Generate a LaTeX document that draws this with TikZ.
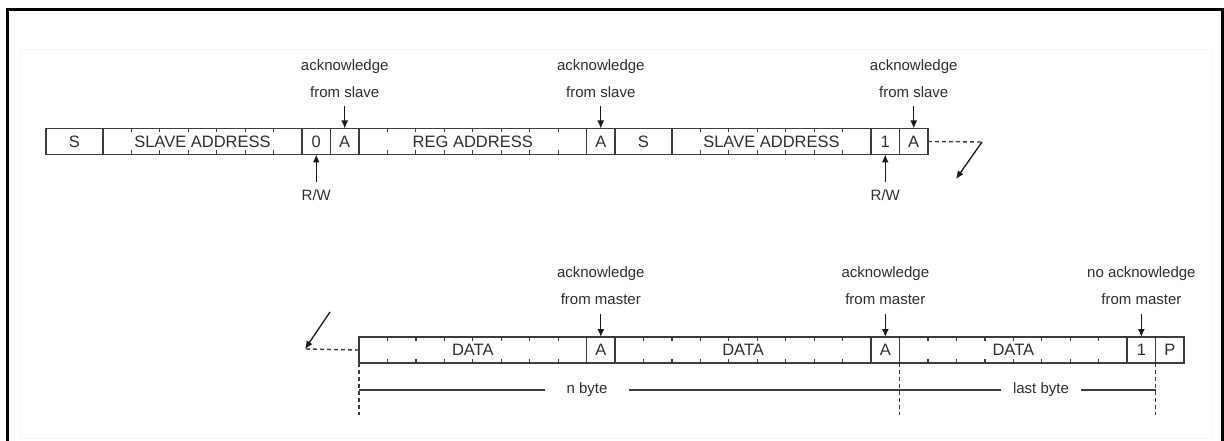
\documentclass[tikz,border=0pt]{standalone}
\usepackage{fontspec}
\setmainfont{Liberation Sans}
\usetikzlibrary{arrows.meta,calc,positioning}
\newcommand{\bitwd}{28.45}
\definecolor{linegray}{HTML}{3C3C3C}
\definecolor{textgray}{HTML}{2E2E2E}

\begin{document}
\begin{tikzpicture}[
  x=1pt, y=-1pt,
  > = {Latex[length=8pt,width=7pt]},
  cell/.style = {draw=linegray, line width=1.6pt, minimum height=26pt, minimum width=#1*\bitwd pt,
                 inner sep=0pt, outer sep=0pt, text=textgray, font=\fontsize{16.5}{16.5}\selectfont},
  cell/.default = 1,
  lbl/.style = {align=center, inner sep=0pt, text=textgray, font=\fontsize{15}{27}\selectfont},
  bittick/.style = {draw=linegray, line width=1.2pt},
  cont/.style = {draw=linegray, line width=1.4pt, dash pattern=on 4pt off 3pt},
  span/.style = {draw=linegray, line width=1.2pt},
  pointer/.style = {->, draw=black!90, line width=1.3pt, shorten <=9pt},
  ]
	\useasboundingbox (0,0) rectangle (1224,441);
	\draw[black!4, line width=1pt] (20,50) rectangle (1212,438);
	\draw[line width=3pt] (7.5,450) -- (7.5,9.5) -- (1222.5,9.5) -- (1222.5,450);

	% write sequence
	\node[cell=2, anchor=west] (s1) at (46,141.5) {S};
	\node[cell=7, right=0pt of s1] (sa1) {SLAVE ADDRESS};
	\node[cell, right=0pt of sa1] (z1) {0};
	\node[cell, right=0pt of z1] (a1) {A};
	\node[cell=8, right=0pt of a1] (ra) {REG ADDRESS};
	\node[cell, right=0pt of ra] (a2) {A};
	\node[cell=2, right=0pt of a2] (s2) {S};
	\node[cell=7, right=0pt of s2] (sa2) {SLAVE ADDRESS};
	\node[cell, right=0pt of sa2] (o1) {1};
	\node[cell, right=0pt of o1] (a3) {A};

	% read sequence
	\node[cell=8, anchor=west] (d1) at (359,350) {DATA};
	\node[cell, right=0pt of d1] (m1) {A};
	\node[cell=9, right=0pt of m1] (d2) {DATA};
	\node[cell, right=0pt of d2] (m2) {A};
	\node[cell=8, right=0pt of m2] (d3) {DATA};
	\node[cell, right=0pt of d3] (n1) {1};
	\node[cell, right=0pt of n1] (p1) {P};

	\foreach \f/\n in {sa1/7, ra/8, sa2/7, d1/8, d2/9, d3/8}{
		\pgfmathtruncatemacro{\nlast}{\n-1}
		\foreach \i in {1,...,\nlast}{
			\draw[bittick] ($(\f.north west)+(\i*\bitwd,0)$) -- ++(0,4);
			\draw[bittick] ($(\f.south west)+(\i*\bitwd,0)$) -- ++(0,-4);
		}
	}

	\node[lbl, above=31pt of a1] (k1) {acknowledge\\from slave};
	\node[lbl, above=31pt of a2] (k2) {acknowledge\\from slave};
	\node[lbl, above=31pt of a3] (k3) {acknowledge\\from slave};
	\node[lbl, above=32pt of m1] (k4) {acknowledge\\from master};
	\node[lbl, above=32pt of m2] (k5) {acknowledge\\from master};
	\node[lbl, above=32pt of n1] (k6) {no acknowledge\\from master};
	\foreach \k/\c in {k1/a1, k2/a2, k3/a3, k4/m1, k5/m2, k6/n1}
		\draw[pointer] (\k.south) -- (\c.north);

	\node[lbl, below=35pt of z1] (rw1) {R/W};
	\node[lbl, below=35pt of o1] (rw2) {R/W};
	\draw[pointer, shorten <=7pt] (rw1.north) -- (z1.south);
	\draw[pointer, shorten <=7pt] (rw2.north) -- (o1.south);

	\coordinate (@1) at (982,142);
	\coordinate (@2) at (956,179);
	\coordinate (@3) at (330,312);
	\coordinate (@4) at (305,349);
	\draw[cont] (a3.east) -- (@1);
	\draw[->, line width=1.3pt, black!90] (@1) -- (@2);
	\draw[->, line width=1.3pt, black!90] (@3) -- (@4);
	\draw[cont] (d1.west) -- (@4);

	\coordinate (v1) at ($(d1.south west)+(0,52)$);
	\coordinate (v2) at ($(d3.south west)+(0,52)$);
	\coordinate (v3) at ($(p1.south west)+(0,52)$);
	\draw[cont, line width=1.2pt] (d1.south west) -- (v1);
	\draw[cont, line width=1.2pt] (d3.south west) -- (v2);
	\draw[cont, line width=1.2pt] (p1.south west) -- (v3);

	\node[lbl, inner xsep=21pt] (nb) at (587,390) {n byte};
	\node[lbl, inner xsep=12pt] (lb) at (1041,390) {last byte};
	\draw[span] (v1 |- nb) -- (nb.west);
	\draw[span] (nb.east) -- (v2 |- nb);
	\draw[span] (v2 |- lb) -- (lb.west);
	\draw[span] (lb.east) -- (v3 |- lb);

\end{tikzpicture}
\end{document}
